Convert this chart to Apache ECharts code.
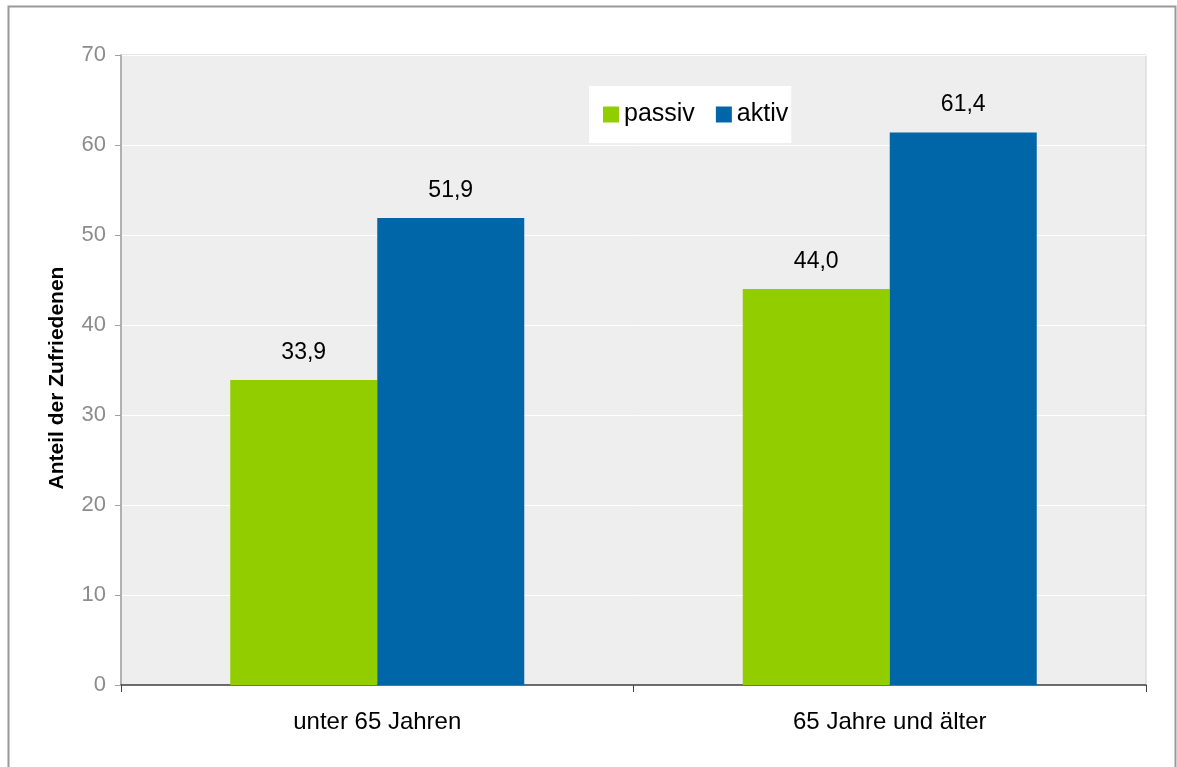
<!DOCTYPE html>
<html>
<head>
<meta charset="utf-8">
<script src="https://cdn.jsdelivr.net/npm/echarts@6/dist/echarts.min.js"></script>
<style>
html,body{margin:0;padding:0;background:#fff;}
#chart{width:1177px;height:767px;}
</style>
</head>
<body>
<div id="chart"></div>
<script>
const categories = ['unter 65 Jahren', '65 Jahre und älter'];
const passivValues = [33.9, 44.0];
const aktivValues = [51.9, 61.4];
const seriesNames = ['passiv', 'aktiv'];
const yAxisTitle = 'Anteil der Zufriedenen';

const FONT = '"Liberation Sans", Arial, sans-serif';
const chart = echarts.init(document.getElementById('chart'), null, {renderer: 'canvas'});
const fmt = p => p.value.toFixed(1).replace('.', ',');

chart.setOption({
  animation: false,
  backgroundColor: '#ffffff',
  textStyle: {fontFamily: FONT},
  graphic: [{
    type: 'rect',
    shape: {x: 8.5, y: 6.5, width: 1167, height: 780},
    style: {fill: 'none', stroke: '#9a9a9a', lineWidth: 2},
    z: 100
  }],
  grid: {
    left: 121, right: 31, top: 55, bottom: 82,
    show: true, backgroundColor: '#eeeeee', borderColor: '#cfcfcf', borderWidth: 1
  },
  legend: {
    data: seriesNames,
    left: 589, top: 86,
    backgroundColor: '#ffffff',
    padding: [16, 3, 16, 14],
    itemWidth: 16, itemHeight: 16, itemGap: 21,
    icon: 'rect',
    textStyle: {fontSize: 25, color: '#000', fontFamily: FONT}
  },
  xAxis: {
    type: 'category',
    data: categories,
    axisLine: {lineStyle: {color: '#404040', width: 1.5}},
    axisTick: {show: true, length: 7, lineStyle: {color: '#404040'}},
    axisLabel: {fontSize: 24, color: '#000', margin: 25, fontFamily: FONT}
  },
  yAxis: {
    type: 'value',
    min: 0, max: 70, interval: 10,
    name: yAxisTitle,
    nameLocation: 'middle',
    nameGap: 53,
    nameTextStyle: {fontSize: 21, fontWeight: 'bold', color: '#000', fontFamily: FONT, padding: [0, 16, 0, 0]},
    axisLine: {show: true, lineStyle: {color: '#a0a0a0', width: 1.5}},
    axisTick: {show: true, length: 6, lineStyle: {color: '#a0a0a0'}},
    axisLabel: {fontSize: 22, color: '#8c8c8c', margin: 15, fontFamily: FONT},
    splitLine: {show: true, lineStyle: {color: '#ffffff', width: 1}}
  },
  series: [{
    name: seriesNames[0],
    type: 'bar',
    data: passivValues,
    barWidth: 147,
    barGap: '0%',
    itemStyle: {color: '#92cd00'},
    label: {show: true, position: 'top', distance: 16, fontSize: 23, color: '#000', formatter: fmt, fontFamily: FONT}
  }, {
    name: seriesNames[1],
    type: 'bar',
    data: aktivValues,
    barWidth: 147,
    barGap: '0%',
    itemStyle: {color: '#0066a8'},
    label: {show: true, position: 'top', distance: 16, fontSize: 23, color: '#000', formatter: fmt, fontFamily: FONT}
  }]
});
</script>
</body>
</html>
